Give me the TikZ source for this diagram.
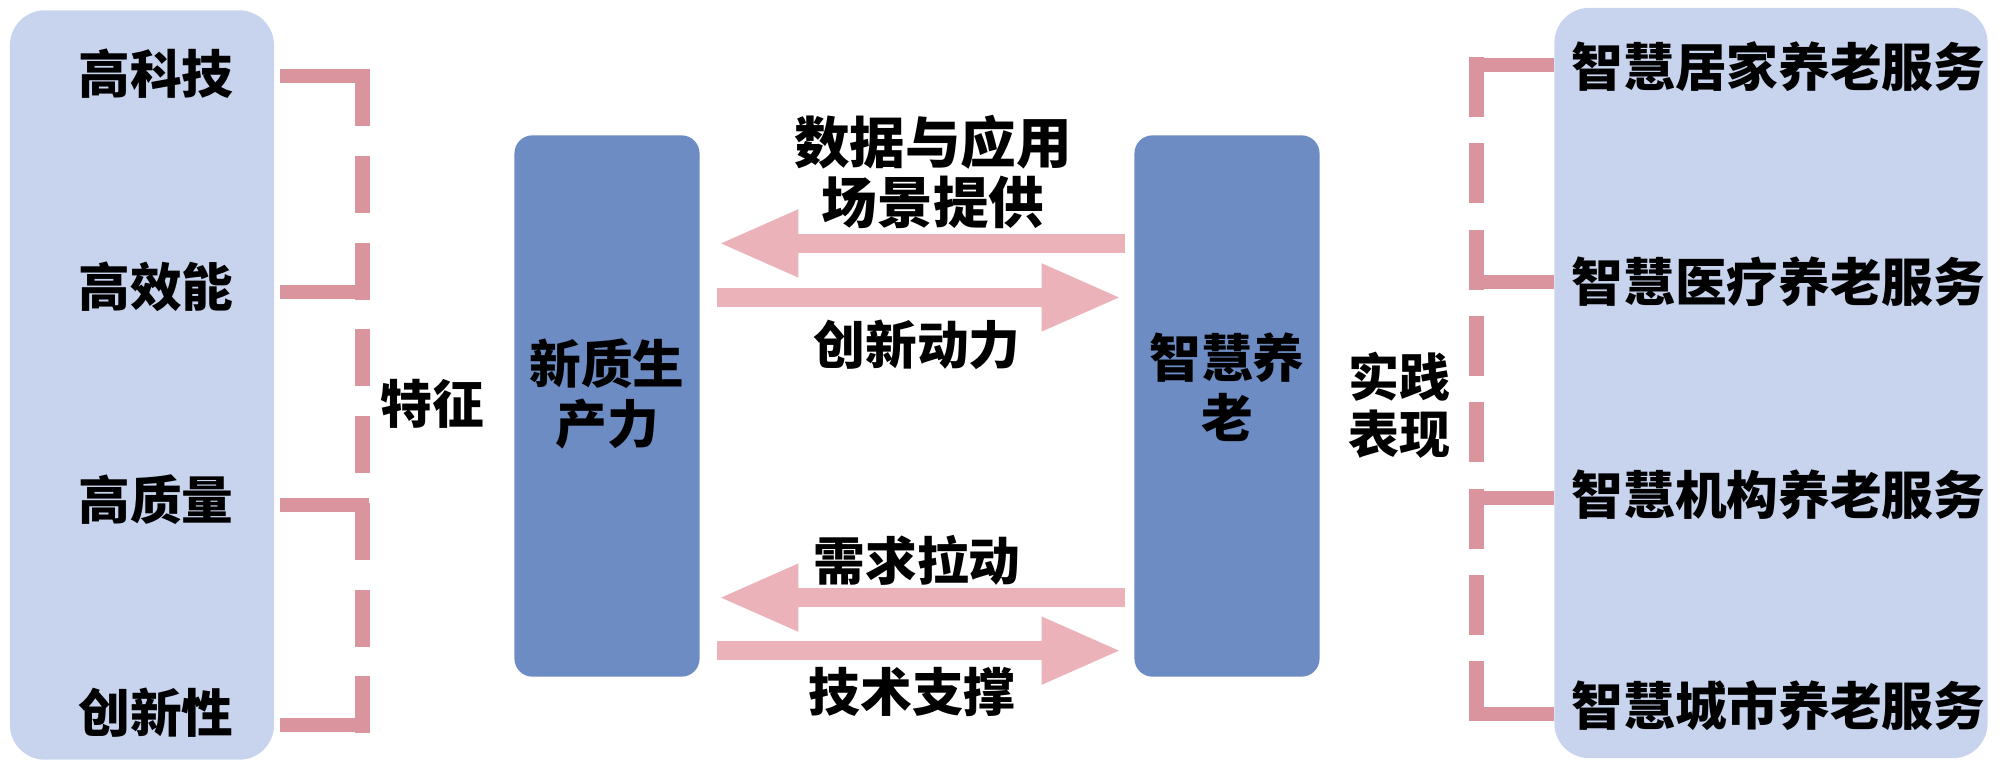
\documentclass[tikz,border=0pt]{standalone}
\usepackage{fontspec}
\setmainfont{Noto Sans CJK SC}
\usetikzlibrary{arrows.meta, positioning}
\definecolor{panelblue}{HTML}{C8D4EE}
\definecolor{boxblue}{HTML}{6D8CC4}
\definecolor{linkpink}{HTML}{D9949E}
\definecolor{arrowpink}{HTML}{EBB2BA}

\begin{document}
\begin{tikzpicture}[x=0.01cm, y=-0.01cm, font=\bfseries\fontsize{14.7}{17}\selectfont,
  panel/.style={fill=panelblue, rounded corners=0.35cm, inner sep=0pt},
  core/.style={fill=boxblue, rounded corners=0.18cm, minimum width=1.85cm, minimum height=5.41cm, inner sep=0pt},
  item/.style={inner sep=0pt},
  stub/.style={linkpink, line width=0.14cm},
  spine/.style={linkpink, line width=0.15cm},
  fwd/.style={arrowpink, line width=0.19cm, -{Triangle[length=0.8cm, width=0.62cm]}}]
\useasboundingbox (0,0) rectangle (2000,769);

% side panels
\node[panel, minimum width=2.64cm, minimum height=7.49cm] (lp) at (142,385) {};
\node[panel, minimum width=4.33cm, minimum height=7.50cm] (rp) at (1771,383) {};

\node[item] (k1) at (156,74) {高科技};
\node[item] (k2) at (156,287) {高效能};
\node[item] (k3) at (156,500) {高质量};
\node[item] (k4) at (156,713) {创新性};

\node[item, anchor=west] (s1) at (1571,67) {智慧居家养老服务};
\node[item, anchor=west] (s2) at (1571,282) {智慧医疗养老服务};
\node[item, anchor=west] (s3) at (1571,495) {智慧机构养老服务};
\node[item, anchor=west] (s4) at (1571,706) {智慧城市养老服务};

% core boxes
\node[core] (npf) at (607,406) {};
\node[core] (zhyl) at (1227,406) {};
\node[align=center] (npftxt) at ([yshift=0.12cm]npf.center) {新质生\\产力};
\node[align=center] (zhyltxt) at ([yshift=0.19cm]zhyl.center) {智慧养\\老};

\node[item] (tz) at (432,404) {特征};
\node[align=center, font=\bfseries\fontsize{14.5}{16.2}\selectfont] (sjbx) at (1399,405) {实践\\表现};

% brackets
\coordinate (ltop) at (362,69);
\coordinate (lbot) at (362,733);
\draw[spine, dash pattern=on 0.57cm off 0.297cm] (ltop) -- (lbot);
\foreach \n/\y in {1/76, 2/292, 3/505, 4/725} {
  \coordinate (ls\n) at (369,\y);
  \draw[stub, shorten <=0.05cm] (lp.east |- ls\n) -- (ls\n);
}
\coordinate (rtop) at (1476,57);
\coordinate (rbot) at (1476,721);
\draw[spine, dash pattern=on 0.6cm off 0.263cm] (rtop) -- (rbot);
\foreach \n/\y in {1/65, 2/282, 3/498, 4/714} {
  \coordinate (rs\n) at (1469,\y);
  \draw[stub] (rs\n) -- (rs\n -| rp.west);
}

% arrows
\draw[fwd, shorten <=0.09cm, shorten >=0.18cm] ([yshift=1.625cm]zhyl.west) -- ([yshift=1.625cm]npf.east);
\draw[fwd, shorten <=0.17cm, shorten >=0.12cm] ([yshift=1.085cm]npf.east) -- ([yshift=1.085cm]zhyl.west);
\draw[fwd, shorten <=0.09cm, shorten >=0.18cm] ([yshift=-1.915cm]zhyl.west) -- ([yshift=-1.915cm]npf.east);
\draw[fwd, shorten <=0.17cm, shorten >=0.12cm] ([yshift=-2.445cm]npf.east) -- ([yshift=-2.445cm]zhyl.west);

\node[align=center, font=\bfseries\fontsize{15.8}{17.2}\selectfont] (l1) at (933,172) {数据与应用\\场景提供};
\node[item] (l2) at (917,345) {创新动力};
\node[item] (l3) at (917,560) {需求拉动};
\node[item] (l4) at (912,692) {技术支撑};
\end{tikzpicture}
\end{document}
